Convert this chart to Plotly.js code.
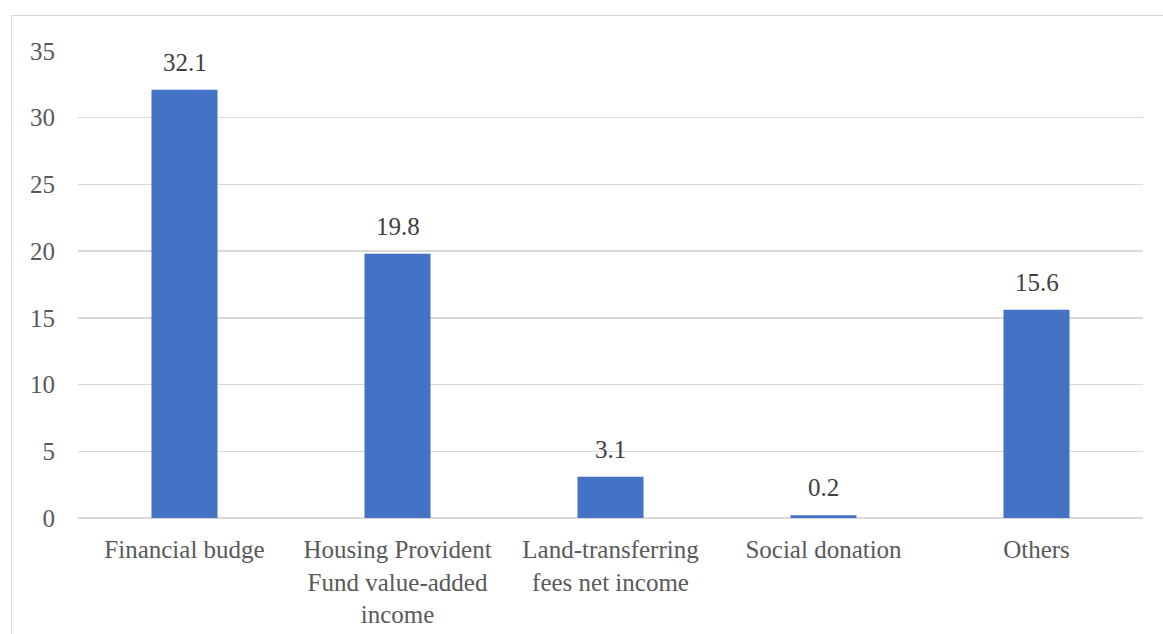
<!DOCTYPE html>
<html><head><meta charset="utf-8">
<script src="https://cdn.plot.ly/plotly-3.0.1.min.js"></script>
<style>
body{margin:0;background:#fff;}
#chart{position:absolute;left:0;top:0;width:1163px;height:634px;}
#frame{position:absolute;left:11px;top:15px;width:1160px;height:640px;border:1.5px solid #d9d9d9;pointer-events:none;}
</style></head>
<body>
<div id="chart"></div>
<div id="frame"></div>
<script>
const categories = ["Financial budge", "Housing Provident<br>Fund value-added<br>income", "Land-transferring<br>fees net income", "Social donation", "Others"];
const values = [32.1, 19.8, 3.1, 0.2, 15.6];
const valueLabels = ["32.1", "19.8", "3.1", "0.2", "15.6"];
const yTicks = [0, 5, 10, 15, 20, 25, 30, 35];

const font = "'Liberation Serif', 'Times New Roman', serif";
const annotations = categories.map((c, i) => ({
  x: c, y: values[i], text: valueLabels[i], xref: 'x', yref: 'y',
  showarrow: false, yanchor: 'bottom', yshift: 12,
  font: {family: font, size: 25, color: '#404040'}
}));
Plotly.newPlot('chart', [{
  type: 'bar',
  x: categories,
  y: values,
  marker: {color: '#4472C4'},
  hoverinfo: 'none'
}], {
  width: 1163, height: 634,
  margin: {l: 78, r: 20, t: 51, b: 116},
  paper_bgcolor: 'rgba(0,0,0,0)',
  plot_bgcolor: 'rgba(0,0,0,0)',
  bargap: 0.69,
  showlegend: false,
  annotations: annotations,
  font: {family: font, size: 25, color: '#595959'},
  xaxis: {
    showgrid: false, zeroline: false, showline: false, ticks: '',
    tickfont: {family: font, size: 25, color: '#595959'},
    ticklabelstandoff: 14
  },
  yaxis: {
    range: [0, 35], tickvals: yTicks, ticktext: yTicks.map(String),
    showgrid: true, gridcolor: '#d9d9d9', gridwidth: 1.5,
    zeroline: true, zerolinecolor: '#d9d9d9', zerolinewidth: 1.5,
    showline: false, ticks: '',
    tickfont: {family: font, size: 25, color: '#595959'},
    ticklabelstandoff: 22
  }
}, {staticPlot: true});
</script>
</body></html>
